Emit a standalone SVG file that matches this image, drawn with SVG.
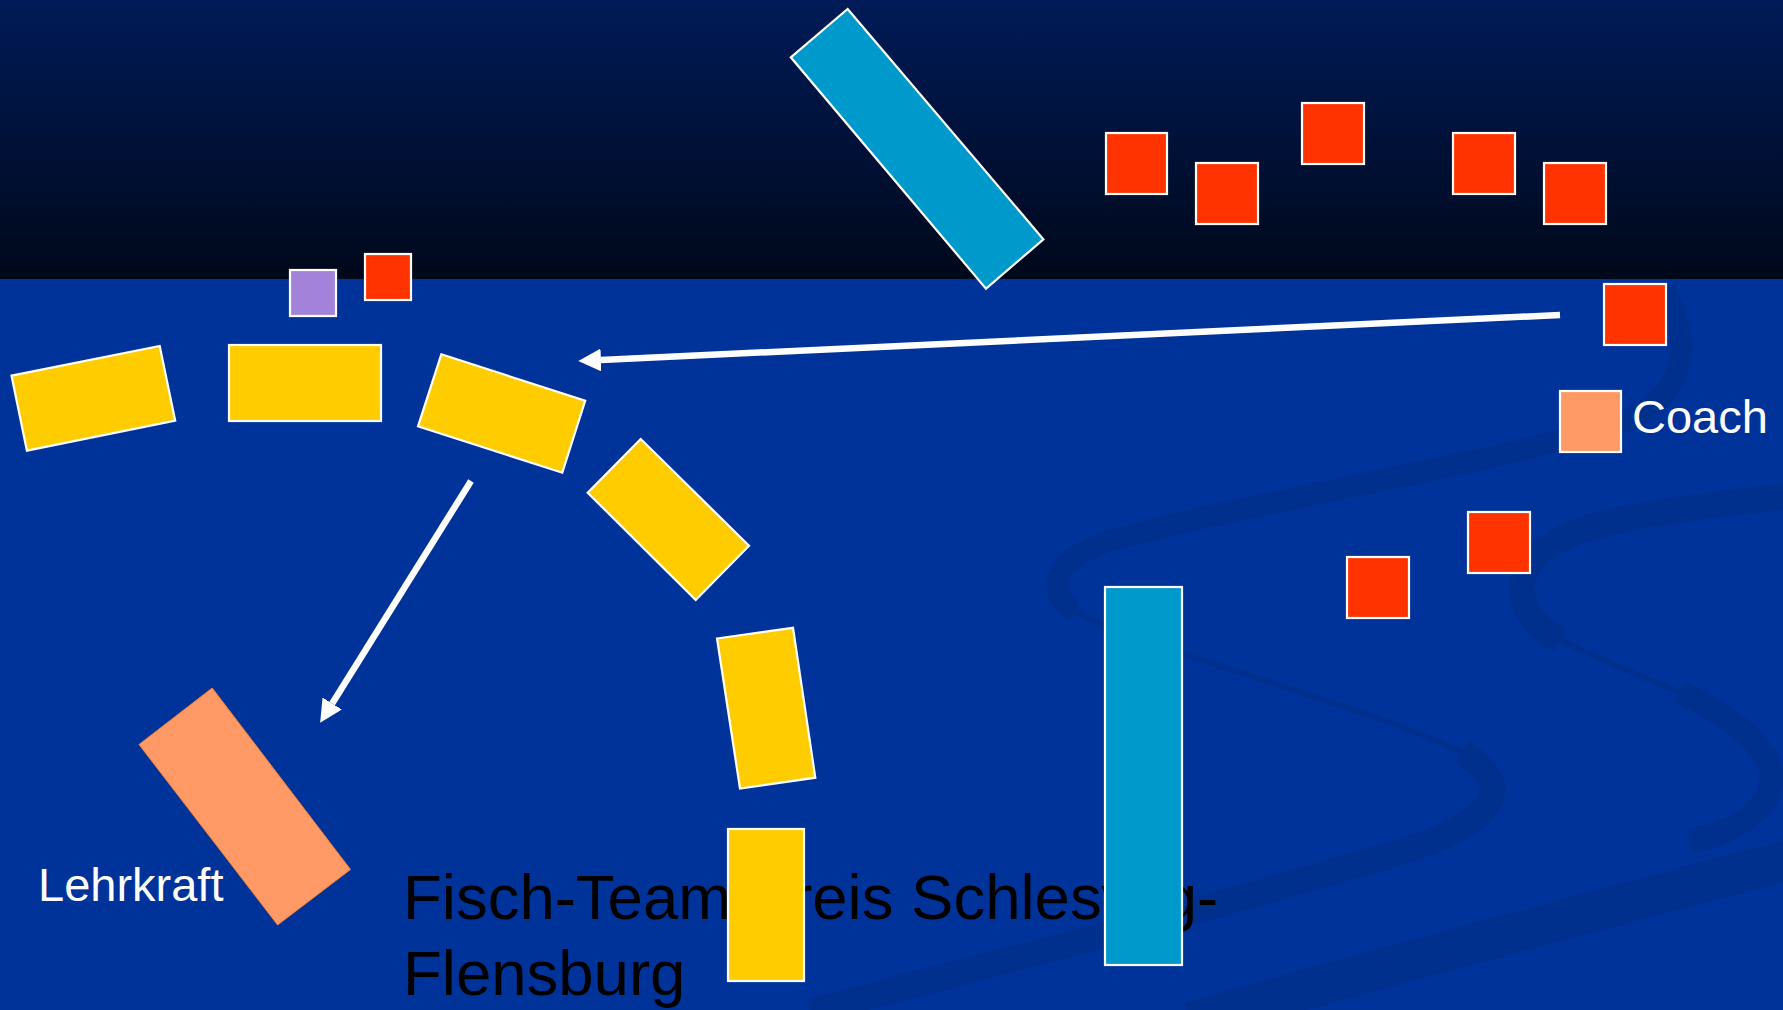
<svg xmlns="http://www.w3.org/2000/svg" width="1783" height="1010" viewBox="0 0 1783 1010">
<defs>
<linearGradient id="sky" x1="0" y1="0" x2="0" y2="1">
<stop offset="0" stop-color="#001b58"/>
<stop offset="1" stop-color="#00081a"/>
</linearGradient>
<marker id="head" viewBox="0 0 10 10" markerWidth="3.5" markerHeight="3.5" refX="0" refY="5" orient="auto" markerUnits="strokeWidth">
<path d="M0,0 L10,5 L0,10 z" fill="#ffffff"/>
</marker>
<style>
.swoosh{fill:none;stroke:#00308e;stroke-linecap:butt}
.node{stroke:#ffffff;stroke-width:2.2}
.yellow{fill:#ffcc00}
.red{fill:#ff3300}
.cyan{fill:#0099cc}
.orange{fill:#ff9966}
.purple{fill:#a383da}
.conn{stroke:#ffffff;stroke-width:6.5;fill:none;marker-end:url(#head)}
.label{font-family:"Liberation Sans",Arial,sans-serif;fill:#ffffff;font-size:47px}
.title{font-family:"Liberation Sans",Arial,sans-serif;fill:#000000;font-size:63.5px}
</style>
</defs>
<rect x="0" y="0" width="1783" height="1010" fill="#003399"/>
<rect x="0" y="0" width="1783" height="279" fill="url(#sky)"/>
<g id="background-swooshes">
<path class="swoosh" stroke-width="22" d="M1664,290 C1696,345 1688,405 1600,430 C1450,472 1250,502 1112,540 C1050,560 1045,592 1075,612"/>
<path class="swoosh" stroke-width="6" d="M1075,612 C1160,655 1350,700 1462,752"/>
<path class="swoosh" stroke-width="26" d="M1462,752 C1515,785 1500,822 1400,852 C1200,912 1000,962 810,1012"/>
<path class="swoosh" stroke-width="26" d="M1790,496 C1650,512 1565,522 1532,560 C1512,590 1522,620 1560,640"/>
<path class="swoosh" stroke-width="6" d="M1560,640 C1600,660 1640,676 1680,692"/>
<path class="swoosh" stroke-width="24" d="M1680,692 C1760,730 1785,770 1765,800 C1750,822 1720,835 1690,842"/>
<path class="swoosh" stroke-width="40" d="M1795,858 C1600,910 1400,962 1190,1022"/>
</g>
<g id="title">
<text class="title" x="403" y="919">Fisch-Team Kreis Schleswig-</text>
<text class="title" x="403" y="995">Flensburg</text>
</g>
<g id="nodes">
<g id="cyan-top"><polygon class="node cyan" points="847.6,9 1043.4,239.3 986,288.7 790.8,57.3"/></g>
<g id="red-top-1"><rect class="node red" x="1106" y="133" width="61" height="61"/></g>
<g id="red-top-2"><rect class="node red" x="1196" y="163" width="62" height="61"/></g>
<g id="red-top-3"><rect class="node red" x="1302" y="103" width="62" height="61"/></g>
<g id="red-top-4"><rect class="node red" x="1453" y="133" width="62" height="61"/></g>
<g id="red-top-5"><rect class="node red" x="1544" y="163" width="62" height="61"/></g>
<g id="red-right"><rect class="node red" x="1604" y="284" width="62" height="61"/></g>
<g id="coach"><rect class="node orange" x="1560" y="391" width="61" height="61"/></g>
<g id="red-low-1"><rect class="node red" x="1347" y="557" width="62" height="61"/></g>
<g id="red-low-2"><rect class="node red" x="1468" y="512" width="62" height="61"/></g>
<g id="cyan-bottom"><rect class="node cyan" x="1105" y="587" width="77" height="378"/></g>
<g id="purple"><rect class="node purple" x="290" y="270" width="46" height="46"/></g>
<g id="red-small"><rect class="node red" x="365" y="254" width="46" height="46"/></g>
<g id="yellow-1"><polygon class="node yellow" points="11.5,375.7 159.7,346 175.2,420.7 26.9,450.7"/></g>
<g id="yellow-2"><rect class="node yellow" x="229" y="345" width="152" height="76"/></g>
<g id="yellow-3"><polygon class="node yellow" points="441.3,354.3 585.2,400.7 562.3,472.7 418,426.3"/></g>
<g id="yellow-4"><polygon class="node yellow" points="640.7,439 749,545.7 695.7,600 587.7,492.7"/></g>
<g id="yellow-5"><polygon class="node yellow" points="717,638.5 793,627.8 815.3,777.7 740,788.5"/></g>
<g id="yellow-6"><rect class="node yellow" x="728" y="829" width="76" height="152"/></g>
<g id="lehrkraft"><polygon class="orange" stroke="#f08030" stroke-width="1" points="212.2,688 350.5,869.5 277.6,925 139,744.5"/></g>
</g>
<g id="connectors">
<line class="conn" x1="1560" y1="315" x2="601" y2="360"/>
<line class="conn" x1="471" y1="481" x2="332.2" y2="703.5"/>
</g>
<g id="labels">
<text class="label" x="1632" y="433">Coach</text>
<text class="label" x="38" y="901">Lehrkraft</text>
</g>
</svg>
